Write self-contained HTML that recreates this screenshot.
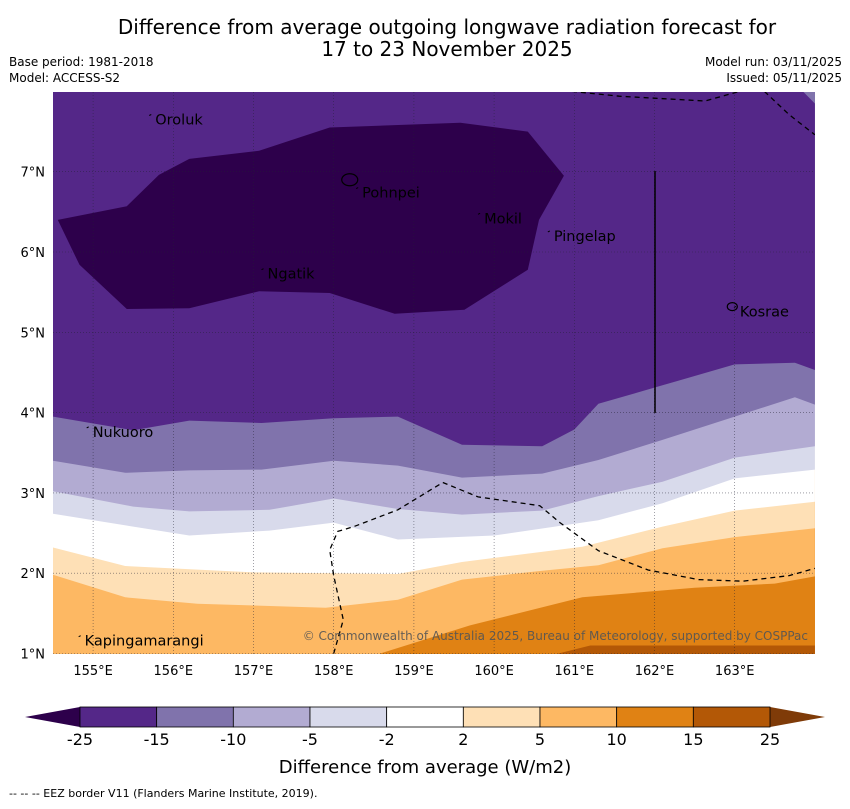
<!DOCTYPE html>
<html><head><meta charset="utf-8"><style>
body{margin:0;background:#fff;width:850px;height:804px;overflow:hidden;font-family:"Liberation Sans","DejaVu Sans",sans-serif}
svg text{font-family:"DejaVu Sans","Liberation Sans",sans-serif}
</style></head><body>
<svg id="map" width="850" height="804" xmlns="http://www.w3.org/2000/svg">
<text x="447" y="34" font-size="20" text-anchor="middle">Difference from average outgoing longwave radiation forecast for</text>
<text x="447" y="56" font-size="20" text-anchor="middle">17 to 23 November 2025</text>
<text x="9" y="66" font-size="12">Base period: 1981-2018</text>
<text x="9" y="82" font-size="12">Model: ACCESS-S2</text>
<text x="842" y="66" font-size="12" text-anchor="end">Model run: 03/11/2025</text>
<text x="842" y="82" font-size="12" text-anchor="end">Issued: 05/11/2025</text>
<defs><clipPath id="pc"><rect x="53" y="92" width="762" height="562"/></clipPath></defs>
<g id="plot" clip-path="url(#pc)"></g>
<g id="axes"></g>
<g id="cbar"></g>
<text x="425" y="773" font-size="18" text-anchor="middle">Difference from average (W/m2)</text>
<text x="9" y="797" font-size="11">--  --  -- EEZ border V11 (Flanders Marine Institute, 2019).</text>
</svg>
<script>
const NS="http://www.w3.org/2000/svg";
const levels=[-25,-15,-10,-5,-2,2,5,10,15,25];
const colors=["#542788","#8073ac","#b2abd2","#d8daeb","#ffffff","#fee0b6","#fdb863","#e08214","#b35806"];
const lonTicks=[155,156,157,158,159,160,161,162,163];
const latTicks=[1,2,3,4,5,6,7];
const b10=[[154.4,0.9],[158.5,0.9],[158.58,1],[159.7,1.35],[161.1,1.7],[162.5,1.82],[163.5,1.87],[164,1.96]];
const b15=[[160.8,1],[161.2,1.1],[164,1.1]];
const b5=[[154.5,1.98],[155.4,1.7],[156.3,1.62],[157.9,1.57],[158.8,1.67],[159.6,1.92],[160.6,2.03],[161.3,2.1],[162.1,2.31],[163,2.45],[164,2.56]];
const b2=[[154.5,2.32],[155.4,2.09],[157,2.01],[158.8,1.99],[159.6,2.14],[161.1,2.33],[162.1,2.58],[163,2.78],[164,2.89]];
const bm2=[[154.5,2.74],[155.5,2.58],[156.2,2.47],[157.2,2.53],[158,2.63],[158.8,2.42],[160,2.47],[161.3,2.66],[162.1,2.87],[163,3.18],[164,3.29]];
const bm5=[[154.5,3.02],[155.5,2.83],[156.2,2.77],[157.2,2.79],[158,2.93],[158.8,2.8],[159.6,2.73],[160.6,2.78],[161.3,2.96],[162.1,3.14],[163,3.44],[164,3.58]];
const bm10=[[154.5,3.4],[155.4,3.25],[156.2,3.28],[157.1,3.29],[158,3.4],[158.8,3.34],[159.6,3.19],[160.6,3.24],[161.3,3.41],[162.1,3.66],[163,3.95],[163.75,4.19],[164,4.1]];
const bm15=[[154.5,3.95],[155.5,3.78],[156.2,3.9],[157.1,3.87],[158,3.93],[158.8,3.95],[159.6,3.6],[160.6,3.58],[161,3.79],[161.3,4.11],[162.1,4.34],[163,4.6],[163.75,4.62],[164,4.53]];
const darkCore=[[154.56,6.4],[154.83,5.84],[155.42,5.29],[156.2,5.3],[157.07,5.51],[157.95,5.49],[158.76,5.23],[159.63,5.28],[160.42,5.78],[160.56,6.4],[160.87,6.95],[160.42,7.5],[159.58,7.61],[157.95,7.55],[157.07,7.26],[156.2,7.16],[155.82,6.96],[155.42,6.57]];
const places=[["Oroluk",155.75,7.65],["Pohnpei",158.33,6.74],["Mokil",159.85,6.42],["Pingelap",160.72,6.2],["Ngatik",157.15,5.73],["Kosrae",163.04,5.26],["Nukuoro",154.97,3.76],["Kapingamarangi",154.87,1.16]];
const eez1=[[158,1],[158.12,1.42],[158,1.97],[157.95,2.29],[158.05,2.52],[158.25,2.58],[158.8,2.79],[159.36,3.13],[159.8,2.95],[160.57,2.84],[160.82,2.63],[161.3,2.28],[161.92,2.04],[162.55,1.92],[163.1,1.9],[163.68,1.97],[164,2.06]];
const eez2=[[160.97,8],[161.56,7.94],[162.63,7.88],[163.06,8]];
const eez3=[[163.37,8],[163.68,7.71],[164,7.46]];
const X=lon=>53+(lon-154.5)*80.2, Y=lat=>653.5-(lat-1)*80.3;
const plot=document.getElementById('plot');
function pts(a){return a.map(p=>X(p[0]).toFixed(1)+","+Y(p[1]).toFixed(1)).join(" ");}
function el(tag,attrs,parent){const e=document.createElementNS(NS,tag);for(const k in attrs)e.setAttribute(k,attrs[k]);parent.appendChild(e);return e;}
let r=el('rect',{x:53,y:92,width:762,height:562,fill:colors[7]},plot);


function above(line,col,name){const top=[[line[line.length-1][0],8.1],[line[0][0],8.1]];
 const p=el('polygon',{points:pts(line.concat(top)),fill:col},plot);
 
 }
function below(line,col,name){const bot=[[line[line.length-1][0],0.9],[line[0][0],0.9]];
 const p=el('polygon',{points:pts(line.concat(bot)),fill:col},plot);
 
 }
above(b10,colors[6],'band-5-10');
below(b15,colors[8],'band-15-25');
above(b5,colors[5],'band-2-5');
above(b2,colors[4],'band-neutral');
above(bm2,colors[3],'band-minus2-minus5');
above(bm5,colors[2],'band-minus5-minus10');
above(bm10,colors[1],'band-minus10-minus15');
above(bm15,colors[0],'band-minus15-minus25');
let tr=el('polygon',{points:pts([[163.8,8.05],[164.05,8.05],[164.05,7.8]]),fill:colors[1]},plot);


let dc=el('polygon',{points:pts(darkCore),fill:"#2d004b"},plot);


lonTicks.forEach(v=>{let g=el('line',{x1:X(v),x2:X(v),y1:92,y2:654,stroke:"#223",'stroke-width':0.6,'stroke-dasharray':"1,2",opacity:0.7},plot);
 
 });
latTicks.forEach(v=>{let g=el('line',{x1:53,x2:815,y1:Y(v),y2:Y(v),stroke:"#223",'stroke-width':0.6,'stroke-dasharray':"1,2",opacity:0.7},plot);
 
 });
[eez1,eez2,eez3].forEach(e=>{let l=el('polyline',{points:pts(e),fill:"none",stroke:"#000",'stroke-width':1.3,'stroke-dasharray':"5,4"},plot);
 
 });
let vl=el('line',{x1:655,x2:655,y1:171,y2:413,stroke:"#000",'stroke-width':1.5},plot);


places.forEach(p=>{let t=el('text',{x:X(p[1])+2,y:Y(p[2])+5,'font-size':14.5,fill:"#000"},plot);t.textContent=p[0];
 
 
 let m=el('path',{d:`M${X(p[1])-4},${Y(p[2])-4} l2,-1`,stroke:"#000",'stroke-width':1},plot);
 
 });
let pi=el('ellipse',{cx:X(158.2),cy:Y(6.9),rx:8,ry:6,fill:"none",stroke:"#000",'stroke-width':1.2},plot);


let ki=el('ellipse',{cx:X(162.97),cy:Y(5.32),rx:5,ry:4,fill:"none",stroke:"#000",'stroke-width':1.2},plot);


let cp=el('text',{x:808,y:640,'font-size':12,'text-anchor':'end',fill:"#555",opacity:0.9},plot);cp.textContent="© Commonwealth of Australia 2025, Bureau of Meteorology, supported by COSPPac";


const ax=document.getElementById('axes');
lonTicks.forEach(v=>{let t=el('text',{x:X(v),y:675,'font-size':13,'text-anchor':'middle'},ax);t.textContent=v+"°E";
 
 });
latTicks.forEach(v=>{let t=el('text',{x:45,y:Y(v)+5,'font-size':13,'text-anchor':'end'},ax);t.textContent=v+"°N";
 
 });
const cb=document.getElementById('cbar');
const cx0=80,cw=690/9,cy=707,ch=20;
let lt=el('polygon',{points:`${cx0},${cy} ${cx0},${cy+ch} 25,${cy+ch/2}`,fill:"#2d004b"},cb);


let rt=el('polygon',{points:`${cx0+690},${cy} ${cx0+690},${cy+ch} 825,${cy+ch/2}`,fill:"#7f3b08"},cb);


colors.forEach((c,i)=>{let s=el('rect',{x:cx0+i*cw,y:cy,width:cw,height:ch,fill:c,stroke:"#000",'stroke-width':0.8},cb);
 
 });
levels.forEach((v,i)=>{let t=el('text',{x:cx0+i*cw,y:745,'font-size':16,'text-anchor':'middle'},cb);t.textContent=v;
 
 });
</script>
</body></html>
